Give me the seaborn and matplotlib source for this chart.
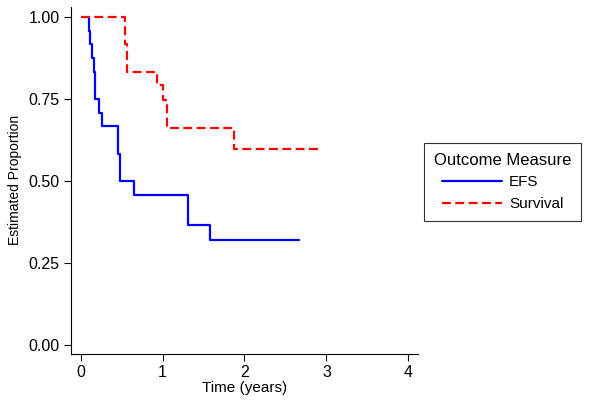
import numpy as np
import pandas as pd
import matplotlib
matplotlib.use('Agg')
import matplotlib.pyplot as plt
import seaborn as sns

# step points (time in years, estimated proportion)
efs_time = [0.09, 0.10, 0.12, 0.14, 0.16, 0.18, 0.22, 0.265, 0.46, 0.475, 0.65, 1.31, 1.58, 2.66]
efs_prop = [1.000, 0.958, 0.917, 0.875, 0.833, 0.750, 0.708, 0.667, 0.583, 0.500, 0.458, 0.367, 0.321, 0.321]

surv_time = [0.0, 0.54, 0.57, 0.93, 1.00, 1.06, 1.87, 2.94]
surv_prop = [1.000, 0.917, 0.833, 0.792, 0.747, 0.660, 0.598, 0.598]

x_ticks = [0, 1, 2, 3, 4]
y_ticks = [0.00, 0.25, 0.50, 0.75, 1.00]

df = pd.concat([
    pd.DataFrame({'time': efs_time, 'prop': efs_prop, 'Outcome Measure': 'EFS'}),
    pd.DataFrame({'time': surv_time, 'prop': surv_prop, 'Outcome Measure': 'Survival'}),
])

sns.set_style('ticks')
plt.rcParams['font.family'] = ['Liberation Sans', 'DejaVu Sans']
plt.rcParams['text.color'] = 'black'
plt.rcParams['axes.labelcolor'] = 'black'

fig = plt.figure(figsize=(6, 4.04), dpi=100)
ax = fig.add_axes([0.118, 0.124, 0.579, 0.859])

sns.lineplot(data=df, x='time', y='prop', hue='Outcome Measure', style='Outcome Measure',
             palette={'EFS': '#0000ff', 'Survival': '#ff0000'},
             dashes={'EFS': '', 'Survival': (4, 2)},
             estimator=None, sort=False, drawstyle='steps-post', linewidth=1.6, ax=ax)

ax.set_xlim(-0.12, 4.12)
ax.set_ylim(-0.027, 1.03)
ax.set_xticks(x_ticks)
ax.set_xticklabels([str(t) for t in x_ticks])
ax.set_yticks(y_ticks)
ax.set_yticklabels(['%.2f' % v for v in y_ticks])
ax.tick_params(labelsize=11.5, length=5, width=0.8, pad=3, color='black', labelcolor='black')
ax.set_xlabel('Time (years)', fontsize=11, labelpad=1)
ax.set_ylabel('Estimated Proportion', fontsize=10, labelpad=5)
for s in ['top', 'right']:
    ax.spines[s].set_visible(False)
for s in ['left', 'bottom']:
    ax.spines[s].set_color('black')
    ax.spines[s].set_linewidth(0.8)

leg = ax.legend(title='Outcome Measure', loc='center left', bbox_to_anchor=(1.017, 0.496),
                borderaxespad=0, fontsize=11, title_fontsize=12, frameon=True, fancybox=False,
                edgecolor='black', handlelength=3.9, handletextpad=0.5,
                borderpad=0.65, labelspacing=0.5)
leg.get_frame().set_linewidth(0.8)
leg.get_title().set_color('black')
for t in leg.get_texts():
    t.set_color('black')

fig.savefig('out.png', dpi=100)
